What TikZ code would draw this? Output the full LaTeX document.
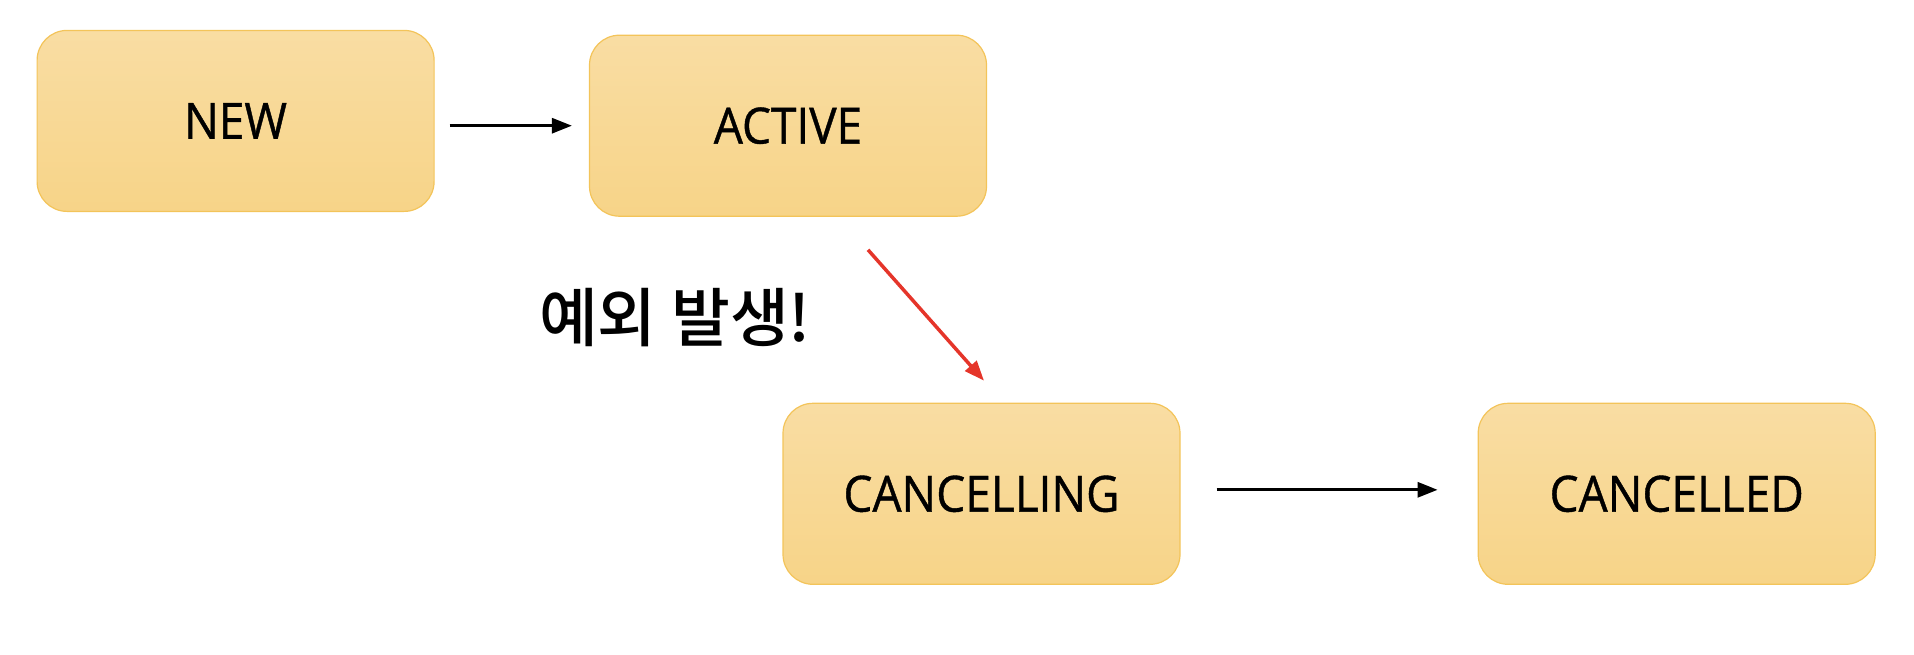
\documentclass[tikz,border=0pt]{standalone}
\usepackage{fontspec}
\setmainfont{Open Sans}[FakeStretch=0.92, FakeBold=0.8]
\newfontfamily\kr{Noto Sans CJK KR Medium}
\usetikzlibrary{arrows.meta}
\definecolor{boxtop}{HTML}{F9DDA3}
\definecolor{boxbot}{HTML}{F7D488}
\definecolor{boxline}{HTML}{F3C45A}
\definecolor{errred}{HTML}{E5352A}
\tikzset{
  statebox/.style={draw=boxline, line width=1.2pt, rounded corners=30pt,
    top color=boxtop, bottom color=boxbot, minimum width=397pt, minimum height=181pt,
    inner sep=0pt, font=\fontsize{50}{54}\selectfont, text=black},
  arr/.style={-{Triangle[length=20pt,width=15pt]}, line width=3pt, black},
  redarr/.style={-{Triangle[length=20pt,width=15pt]}, line width=3.5pt, errred}
}
\begin{document}
\begin{tikzpicture}[x=1pt,y=-1pt]
\useasboundingbox (0,0) rectangle (1914,654);
\node[statebox] (new) at (235.6,120.9) {NEW};
\node[statebox] (active) at (788,125.7) {ACTIVE};
\node[statebox] (cancelling) at (981.5,493.8) {CANCELLING};
\node[statebox] (cancelled) at (1676.7,493.8) {CANCELLED};
\node[font=\kr\fontsize{64}{68}\selectfont, anchor=center] (label) at (675,318) {예외 발생!};
\draw[arr] ([xshift=15pt]new.east |- active.west) -- ([xshift=-17pt]active.west);
\draw[arr] ([xshift=36pt,yshift=4pt]cancelling.east) -- ([xshift=-40pt,yshift=4pt]cancelled.west);
\draw[redarr] ([shift={(80,33)}]active.south) -- ([shift={(2.5,-22)}]cancelling.north);
\end{tikzpicture}
\end{document}
